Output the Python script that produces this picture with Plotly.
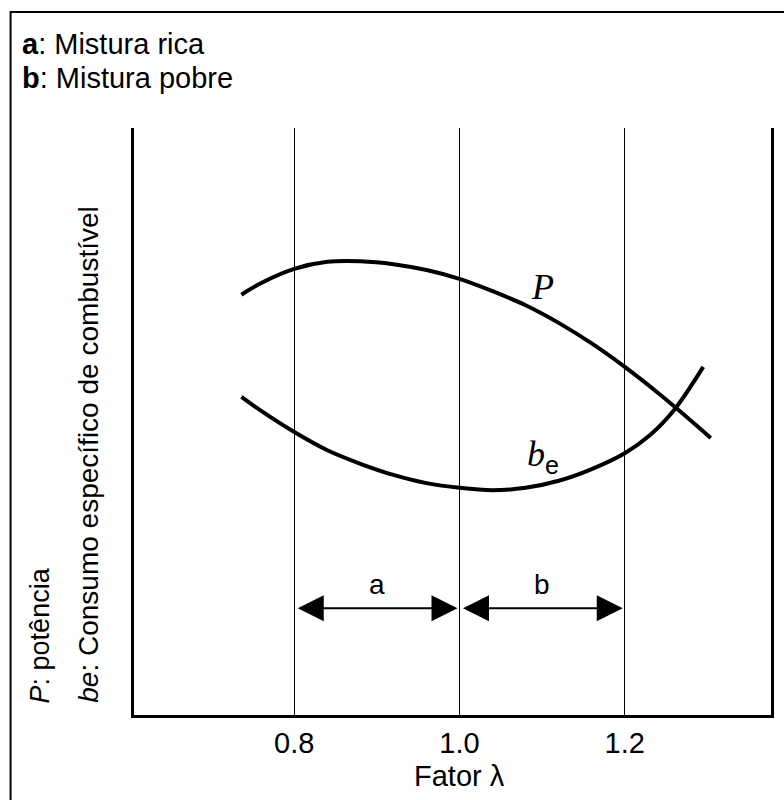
import plotly.graph_objects as go

# Curve data: air ratio (lambda) vs relative value
p_lambda = [0.736, 0.760, 0.800, 0.840, 0.880, 0.920, 0.960, 1.000, 1.040, 1.080,
            1.120, 1.160, 1.200, 1.240, 1.263, 1.304]
p_value = [71.6, 73.6, 76.0, 77.2, 77.3, 76.8, 75.8, 74.3, 72.2, 69.8,
           66.8, 63.3, 59.3, 54.9, 52.2, 47.2]

be_lambda = [0.736, 0.760, 0.800, 0.840, 0.880, 0.920, 0.960, 1.000, 1.040, 1.080,
             1.120, 1.160, 1.200, 1.230, 1.260, 1.295]
be_value = [54.2, 51.8, 48.2, 45.1, 42.8, 40.9, 39.5, 38.7, 38.3, 38.7,
            39.9, 41.9, 44.6, 47.6, 52.0, 59.3]

tick_vals = [0.8, 1.0, 1.2]
tick_text = ["0.8", "1.0", "1.2"]

# Ranges marked by arrows: a = rich mixture, b = lean mixture
range_a = [0.8, 1.0]
range_b = [1.0, 1.2]
arrow_level = 18.2

W, H = 784, 800
ML, MR, MT, MB = 134, 10, 128, 85
PW, PH = W - ML - MR, H - MT - MB


def px(x):
    return (x - ML) / PW


def py(y):
    return (H - MB - y) / PH


SANS = "Liberation Sans, Arial, sans-serif"
SERIF = "Liberation Serif, Times New Roman, serif"

fig = go.Figure()
for xs, ys in [(p_lambda, p_value), (be_lambda, be_value)]:
    fig.add_trace(go.Scatter(x=xs, y=ys, mode="lines",
                             line=dict(color="black", width=4, shape="spline", smoothing=0.9),
                             hoverinfo="skip", showlegend=False))

annotations = []

# double-headed arrows for the mixture ranges
for (x0, x1), lab in [(range_a, "a"), (range_b, "b")]:
    annotations.append(dict(x=x1, y=arrow_level, ax=x0, ay=arrow_level,
                            xref="x", yref="y", axref="x", ayref="y",
                            text="", showarrow=True, arrowhead=2, startarrowhead=2,
                            arrowside="end+start", arrowsize=2.6, startarrowsize=2.6,
                            arrowwidth=2, arrowcolor="black", standoff=2, startstandoff=2))
    annotations.append(dict(x=(x0 + x1) / 2, y=arrow_level + 4, xref="x", yref="y",
                            text=lab, showarrow=False,
                            font=dict(family=SANS, size=28, color="black")))

# curve labels
annotations.append(dict(x=1.101, y=72.9, xref="x", yref="y", showarrow=False,
                        text="<i>P</i>", font=dict(family=SERIF, size=36, color="black")))
annotations.append(dict(x=1.101, y=44.0, xref="x", yref="y", showarrow=False,
                        text="<i>b</i><sub><span style='font-family:Liberation Sans, Arial'>e</span></sub>",
                        font=dict(family=SERIF, size=36, color="black")))

# legend text at top left
annotations.append(dict(x=px(19), y=py(44), xref="paper", yref="paper",
                        xanchor="left", yanchor="middle", showarrow=False,
                        text="<b>a</b>: Mistura rica",
                        font=dict(family=SANS, size=29, color="black")))
annotations.append(dict(x=px(19), y=py(78), xref="paper", yref="paper",
                        xanchor="left", yanchor="middle", showarrow=False,
                        text="<b>b</b>: Mistura pobre",
                        font=dict(family=SANS, size=29, color="black")))

# vertical symbol descriptions
annotations.append(dict(x=px(40), y=py(705), xref="paper", yref="paper",
                        xanchor="center", yanchor="bottom", showarrow=False, textangle=-90,
                        text="<i>P</i>: potência",
                        font=dict(family=SANS, size=27, color="black")))
annotations.append(dict(x=px(88), y=py(705), xref="paper", yref="paper",
                        xanchor="center", yanchor="bottom", showarrow=False, textangle=-90,
                        text="<i>be</i>: Consumo específico de combustível",
                        font=dict(family=SANS, size=28, color="black")))

# axis title
annotations.append(dict(x=px(461), y=py(776), xref="paper", yref="paper",
                        xanchor="center", yanchor="middle", showarrow=False,
                        text="Fator λ",
                        font=dict(family=SANS, size=29, color="black")))

fig.update_layout(
    width=W, height=H,
    margin=dict(l=ML, r=MR, t=MT, b=MB),
    paper_bgcolor="white", plot_bgcolor="white",
    annotations=annotations,
    shapes=[dict(type="rect", xref="paper", yref="paper",
                 x0=px(10), x1=px(792), y0=py(808), y1=py(12),
                 line=dict(color="black", width=2), layer="below")],
    xaxis=dict(range=[0.606, 1.377], tickvals=tick_vals, ticktext=tick_text,
               showgrid=True, gridcolor="black", gridwidth=1,
               showline=True, linecolor="black", linewidth=3, mirror=False,
               ticks="", zeroline=False,
               tickfont=dict(family=SANS, size=29, color="black")),
    yaxis=dict(range=[0, 100], showticklabels=False, showgrid=False,
               showline=True, linecolor="black", linewidth=3, mirror=True,
               ticks="", zeroline=False),
)

fig.write_html("out.html")
